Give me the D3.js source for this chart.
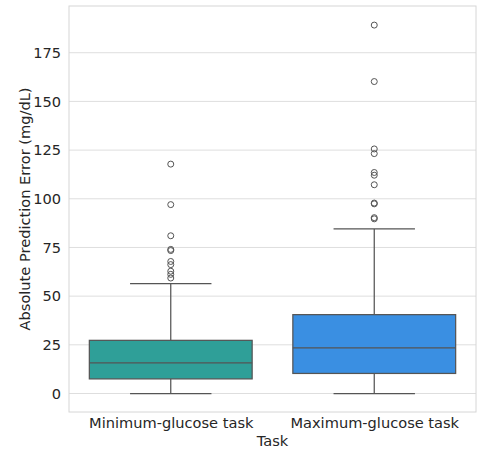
<!DOCTYPE html>
<html>
<head>
<meta charset="utf-8">
<script src="https://cdn.jsdelivr.net/npm/d3@7"></script>
<style>
  body { margin: 0; background: #fff; }
  svg { display: block; font-family: "DejaVu Sans", sans-serif; }
</style>
</head>
<body>
<svg></svg>
<script>
const categories = ['Minimum-glucose task', 'Maximum-glucose task'];
const colors = ['#2f9f98', '#3a8fe2'];
// box stats: [lower whisker, q1, median, q3, upper whisker]
const boxStats = [
    [0, 7.5, 15.7, 27.3, 56.4],
    [0, 10.3, 23.4, 40.5, 84.5]
];
const outliersMin = [117.8, 97, 81, 74, 73.4, 67.8, 66.2, 62.8, 61.2, 59.3];
const outliersMax = [189.2, 160.2, 125.6, 123.2, 113.5, 112.1, 107.2, 97.8, 97.4, 90.3, 89.7];
const outliers = [outliersMin, outliersMax];
const yTicks = [0, 25, 50, 75, 100, 125, 150, 175];

const width = 481;
const height = 450;
const margin = {top: 6, right: 5, bottom: 38, left: 69};
const fontSize = '14.6px';

const svg = d3.select('svg')
    .attr('width', width)
    .attr('height', height);

const xScale = d3.scaleLinear()
    .domain([-0.5, 1.5])
    .range([margin.left, width - margin.right]);

const yScale = d3.scaleLinear()
    .domain([-9.5, 199])
    .range([height - margin.bottom, margin.top]);

const textColor = '#262626';
const lineColor = '#555555';
const boxWidth = 0.8;

// grid
svg.append('g')
    .selectAll('line')
    .data(yTicks)
    .enter()
    .append('line')
    .attr('x1', margin.left)
    .attr('x2', width - margin.right)
    .attr('y1', d => yScale(d))
    .attr('y2', d => yScale(d))
    .attr('stroke', '#dedede')
    .attr('stroke-width', 1);

// frame
svg.append('rect')
    .attr('x', margin.left)
    .attr('y', margin.top)
    .attr('width', width - margin.left - margin.right)
    .attr('height', height - margin.top - margin.bottom)
    .attr('fill', 'none')
    .attr('stroke', '#d6d6d6')
    .attr('stroke-width', 1);

// y axis
const yAxis = d3.axisLeft(yScale).tickValues(yTicks).tickSize(0).tickPadding(8);
const gy = svg.append('g')
    .attr('transform', `translate(${margin.left},0)`)
    .call(yAxis);
gy.select('.domain').remove();
gy.selectAll('text')
    .attr('fill', textColor)
    .style('font-size', fontSize)
    .style('font-family', '"DejaVu Sans", sans-serif');

// x axis
const xAxis = d3.axisBottom(xScale)
    .tickValues([0, 1])
    .tickFormat(i => categories[i])
    .tickSize(0)
    .tickPadding(6);
const gx = svg.append('g')
    .attr('transform', `translate(0,${height - margin.bottom})`)
    .call(xAxis);
gx.select('.domain').remove();
gx.selectAll('text')
    .attr('fill', textColor)
    .style('font-size', fontSize)
    .style('font-family', '"DejaVu Sans", sans-serif');

// axis labels
svg.append('text')
    .attr('x', (margin.left + width - margin.right) / 2)
    .attr('y', 446)
    .attr('text-anchor', 'middle')
    .attr('fill', textColor)
    .style('font-size', fontSize)
    .text('Task');

svg.append('text')
    .attr('transform', `translate(30,${(margin.top + height - margin.bottom) / 2}) rotate(-90)`)
    .attr('text-anchor', 'middle')
    .attr('fill', textColor)
    .style('font-size', fontSize)
    .text('Absolute Prediction Error (mg/dL)');

// boxes
const boxes = svg.append('g')
    .selectAll('g')
    .data(boxStats)
    .enter()
    .append('g');

// whiskers
boxes.append('line')
    .attr('x1', (d, i) => xScale(i))
    .attr('x2', (d, i) => xScale(i))
    .attr('y1', d => yScale(d[0]))
    .attr('y2', d => yScale(d[1]))
    .attr('stroke', lineColor)
    .attr('stroke-width', 1.25);
boxes.append('line')
    .attr('x1', (d, i) => xScale(i))
    .attr('x2', (d, i) => xScale(i))
    .attr('y1', d => yScale(d[3]))
    .attr('y2', d => yScale(d[4]))
    .attr('stroke', lineColor)
    .attr('stroke-width', 1.25);
// caps
[0, 4].forEach(k => {
    boxes.append('line')
        .attr('x1', (d, i) => xScale(i - boxWidth / 4))
        .attr('x2', (d, i) => xScale(i + boxWidth / 4))
        .attr('y1', d => yScale(d[k]))
        .attr('y2', d => yScale(d[k]))
        .attr('stroke', lineColor)
        .attr('stroke-width', 1.25);
});

boxes.append('rect')
    .attr('x', (d, i) => xScale(i - boxWidth / 2))
    .attr('width', xScale(boxWidth) - xScale(0))
    .attr('y', d => yScale(d[3]))
    .attr('height', d => yScale(d[1]) - yScale(d[3]))
    .attr('fill', (d, i) => colors[i])
    .attr('stroke', lineColor)
    .attr('stroke-width', 1.25);

boxes.append('line')
    .attr('x1', (d, i) => xScale(i - boxWidth / 2))
    .attr('x2', (d, i) => xScale(i + boxWidth / 2))
    .attr('y1', d => yScale(d[2]))
    .attr('y2', d => yScale(d[2]))
    .attr('stroke', lineColor)
    .attr('stroke-width', 1.25);

// outliers
outliers.forEach((vals, i) => {
    svg.append('g')
        .selectAll('circle')
        .data(vals)
        .enter()
        .append('circle')
        .attr('cx', xScale(i))
        .attr('cy', d => yScale(d))
        .attr('r', 3)
        .attr('fill', 'none')
        .attr('stroke', lineColor)
        .attr('stroke-width', 1);
});
</script>
</body>
</html>
